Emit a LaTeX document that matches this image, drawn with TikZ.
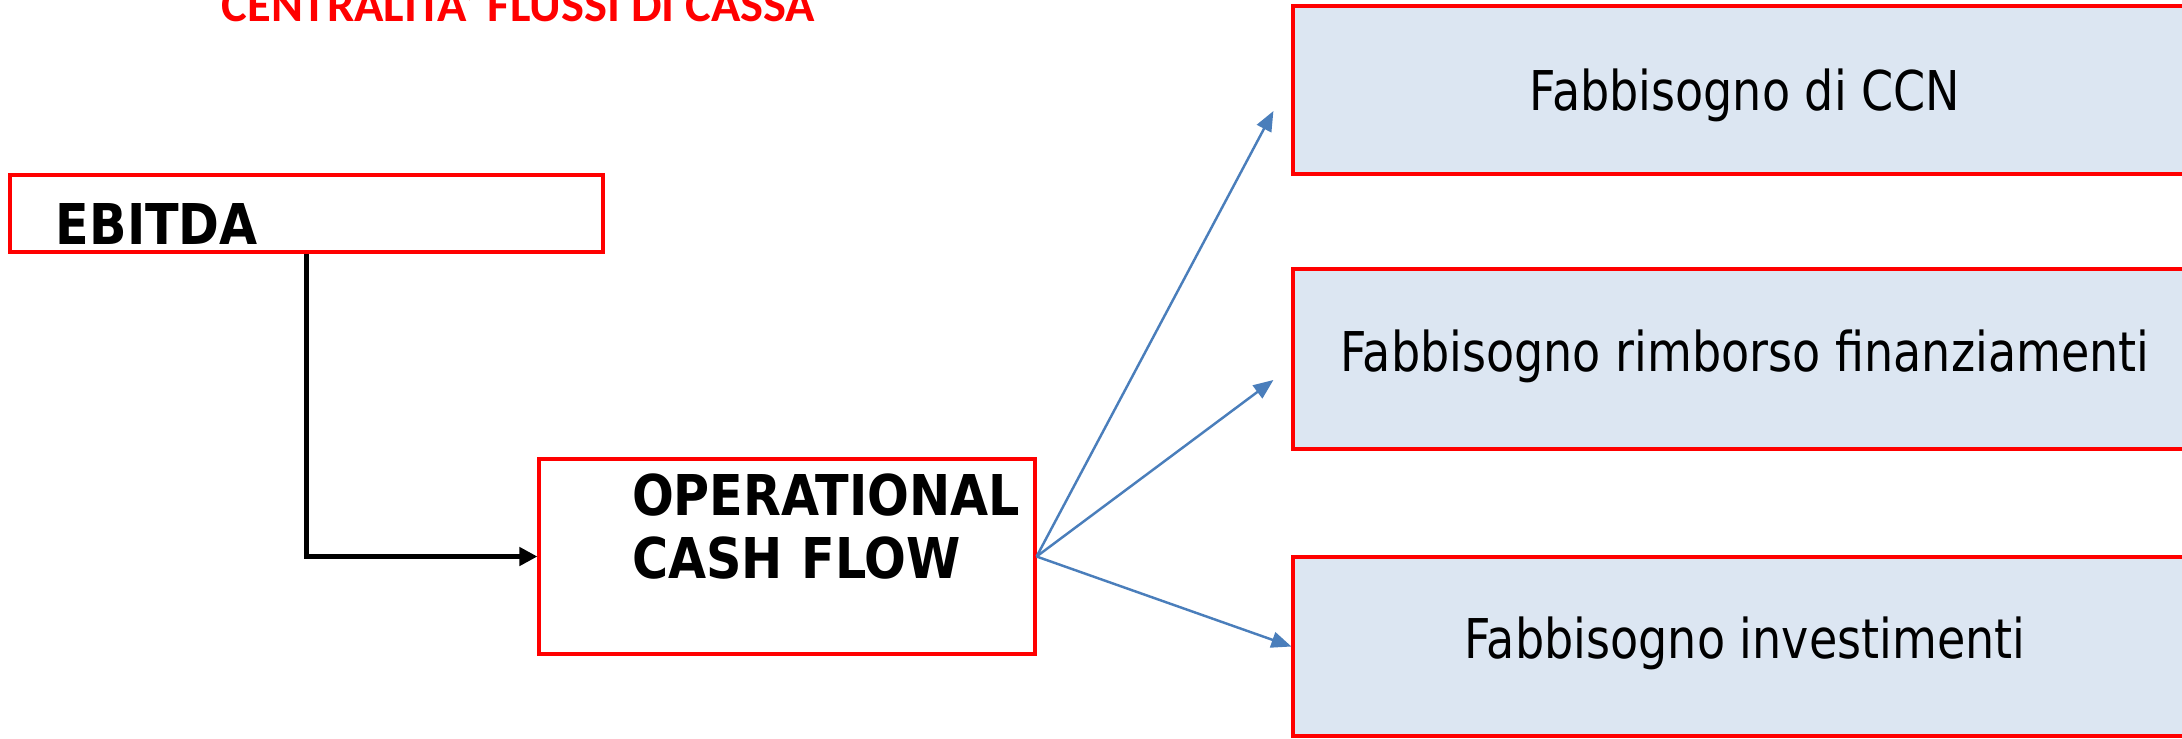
\documentclass[tikz,border=0pt]{standalone}
\usepackage{fontspec}
\setmainfont{DejaVu Sans}
\newfontfamily\boxfont{DejaVu Sans}[FakeStretch=0.84]
\newfontfamily\boldfont{DejaVu Sans}[FakeStretch=0.875]
\newfontfamily\titlefont{Carlito}
\usetikzlibrary{arrows.meta,positioning,calc}

\definecolor{boxred}{HTML}{FF0000}
\definecolor{boxfill}{HTML}{DCE6F2}
\definecolor{arrowblue}{HTML}{4A7EBB}

\begin{document}
\begin{tikzpicture}[
  redbox/.style={draw=boxred, line width=0.9pt, inner sep=0pt},
  mainbox/.style={redbox, align=left,
                  font=\boldfont\bfseries\fontsize{16}{18.2}\selectfont},
  needbox/.style={redbox, fill=boxfill, minimum width=9.04cm,
                  font=\boxfont\fontsize{15.6}{18}\selectfont,
                  text height=0.40cm, text depth=0pt},
  flow/.style={-{Triangle[length=1.8mm, width=1.8mm]}, line width=1.5pt},
  need/.style={-{Triangle[length=2mm, width=1.6mm]}, arrowblue, line width=0.7pt},
]
\useasboundingbox (0,0) rectangle (21.82,-7.38);

% heading, partly cut by the page top
\node[anchor=base west, inner sep=0pt, text=boxred,
      font=\titlefont\bfseries\fontsize{13.8}{16}\selectfont] (title)
      at (2.21,-0.21) {CENTRALITA’ FLUSSI DI CASSA};

% left side: EBITDA feeds the operational cash flow
\node[mainbox, minimum width=5.93cm, minimum height=0.77cm, text width=5.01cm,
      inner xsep=0.46cm, text height=0.61cm, text depth=0pt] (ebitda)
      at (3.065,-2.135) {EBITDA};
\node[mainbox, minimum width=4.96cm, minimum height=1.95cm, text width=3.10cm,
      inner xsep=0.93cm, text height=0.45cm, text depth=1.28cm] (ocf)
      at (7.87,-5.565) {OPERATIONAL\\CASH~FLOW};

% right side: what the cash flow has to cover
\node[needbox, minimum height=1.68cm] (ccn) at (17.45,-0.90) {Fabbisogno di CCN};
\node[needbox, minimum height=1.80cm, text depth=0.16cm] (rimb)
      at (17.45,-3.59) {Fabbisogno rimborso finanziamenti};
\node[needbox, minimum height=1.79cm, text depth=0.16cm] (inv)
      at (17.45,-6.465) {Fabbisogno investimenti};

\draw[flow] (ebitda.south) |- (ocf.west);
\draw[need] (ocf.east) -- ($(ccn.west)+(-0.18,-0.21)$);
\draw[need] (ocf.east) -- ($(rimb.west)+(-0.18,-0.21)$);
\draw[need] (ocf.east) -- (inv.west);
\end{tikzpicture}
\end{document}
